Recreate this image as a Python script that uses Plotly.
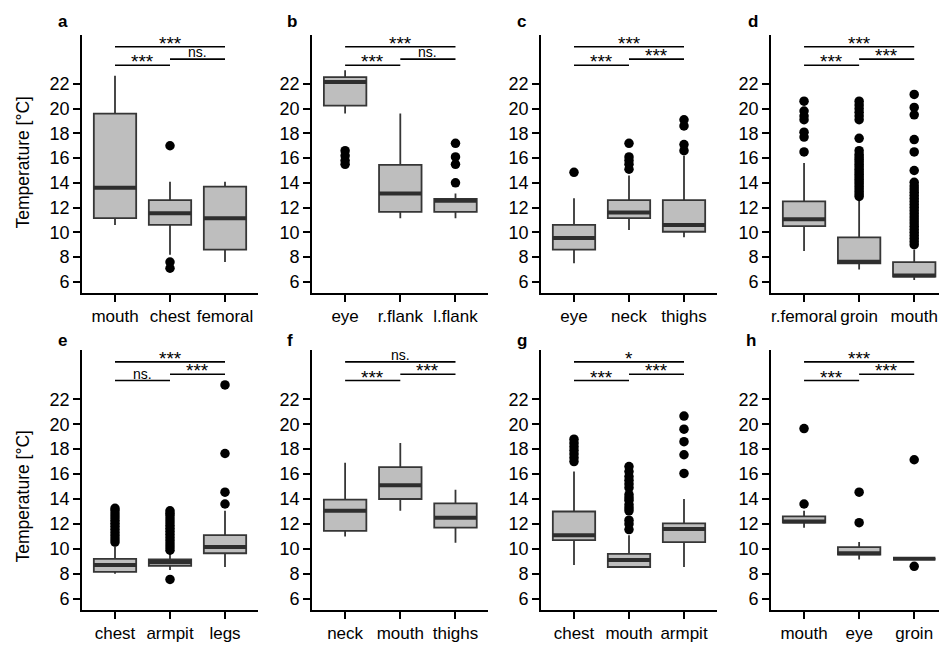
import plotly.graph_objects as go

# ---------------- data ----------------
a_cats = ["mouth", "chest", "femoral"]
a_low = [10.6, 8.2, 7.6]
a_q1 = [11.15, 10.6, 8.6]
a_med = [13.6, 11.55, 11.15]
a_q3 = [19.6, 12.6, 13.7]
a_high = [22.65, 14.1, 14.1]
a_out = [[], [17.0, 7.6, 7.1], []]
a_sig = ["***", "ns.", "***"]   # pairs (0-1), (1-2), (0-2)

b_cats = ["eye", "r.flank", "l.flank"]
b_low = [19.6, 11.15, 11.15]
b_q1 = [20.25, 11.65, 11.65]
b_med = [22.15, 13.15, 12.55]
b_q3 = [22.55, 15.45, 12.7]
b_high = [23.1, 19.6, 13.15]
b_out = [[16.6, 16.2, 15.8, 15.5], [], [17.2, 16.1, 15.5, 14.0]]
b_sig = ["***", "ns.", "***"]

c_cats = ["eye", "neck", "thighs"]
c_low = [7.5, 10.2, 9.6]
c_q1 = [8.6, 11.15, 10.05]
c_med = [9.55, 11.6, 10.6]
c_q3 = [10.6, 12.6, 12.6]
c_high = [12.75, 14.6, 16.2]
c_out = [[14.85], [15.1, 15.5, 15.8, 16.1, 17.2], [16.6, 17.1, 18.6, 19.1]]
c_sig = ["***", "***", "***"]

d_cats = ["r.femoral", "groin", "mouth"]
d_low = [8.5, 7.0, 6.15]
d_q1 = [10.5, 7.5, 6.43]
d_med = [11.05, 7.62, 6.51]
d_q3 = [12.5, 9.6, 7.6]
d_high = [15.6, 12.6, 8.6]
d_out = [
    [16.5, 17.7, 18.1, 19.1, 19.4, 19.8, 20.6],
    [12.9, 13.1, 13.3, 13.5, 13.7, 13.9, 14.1, 14.3, 14.5, 14.7, 14.9, 15.1,
     15.3, 15.5, 15.7, 15.9, 16.1, 16.3, 16.6, 17.6, 19.1, 19.4, 19.7, 20.0,
     20.3, 20.6],
    [9.0, 9.25, 9.5, 9.75, 10.0, 10.25, 10.5, 10.75, 11.0, 11.25, 11.5, 11.75,
     12.0, 12.25, 12.5, 12.75, 13.0, 13.25, 13.5, 13.75, 14.05, 15.0, 16.5,
     17.5, 19.5, 20.1, 21.15],
]
d_sig = ["***", "***", "***"]

e_cats = ["chest", "armpit", "legs"]
e_low = [8.0, 8.3, 8.55]
e_q1 = [8.15, 8.65, 9.65]
e_med = [8.7, 8.95, 10.15]
e_q3 = [9.2, 9.15, 11.1]
e_high = [10.2, 9.65, 13.05]
e_out = [
    [10.55, 10.8, 11.05, 11.3, 11.55, 11.8, 12.05, 12.3, 12.55, 12.8, 13.05, 13.25],
    [7.55, 9.9, 10.15, 10.4, 10.65, 10.9, 11.15, 11.4, 11.65, 11.9, 12.15, 12.4,
     12.65, 12.85, 13.05],
    [13.6, 14.55, 17.65, 23.15],
]
e_sig = ["ns.", "***", "***"]

f_cats = ["neck", "mouth", "thighs"]
f_low = [11.0, 13.05, 10.5]
f_q1 = [11.45, 14.0, 11.7]
f_med = [13.05, 15.1, 12.5]
f_q3 = [13.95, 16.55, 13.65]
f_high = [16.9, 18.5, 14.75]
f_out = [[], [], []]
f_sig = ["***", "***", "ns."]

g_cats = ["chest", "mouth", "armpit"]
g_low = [8.7, 8.5, 8.55]
g_q1 = [10.7, 8.55, 10.55]
g_med = [11.1, 9.1, 11.6]
g_q3 = [13.0, 9.6, 12.05]
g_high = [16.2, 11.1, 14.0]
g_out = [
    [17.0, 17.3, 17.6, 17.9, 18.2, 18.5, 18.8],
    [11.55, 12.0, 12.3, 13.05, 13.3, 13.55, 13.9, 14.1, 14.35, 14.9, 15.2,
     15.5, 15.8, 16.2, 16.6],
    [16.05, 17.55, 18.6, 19.6, 20.65],
]
g_sig = ["***", "***", "*"]

h_cats = ["mouth", "eye", "groin"]
h_low = [11.7, 9.15, 9.2]
h_q1 = [12.1, 9.55, 9.2]
h_med = [12.2, 9.65, 9.2]
h_q3 = [12.6, 10.15, 9.2]
h_high = [13.05, 10.55, 9.2]
h_out = [[13.6, 19.65], [12.1, 14.55], [8.6, 17.15]]
h_sig = ["***", "***", "***"]

panel_letters = ["a", "b", "c", "d", "e", "f", "g", "h"]
y_ticks = [6, 8, 10, 12, 14, 16, 18, 20, 22]
y_title = "Temperature [°C]"

panels = [
    (a_cats, a_low, a_q1, a_med, a_q3, a_high, a_out, a_sig),
    (b_cats, b_low, b_q1, b_med, b_q3, b_high, b_out, b_sig),
    (c_cats, c_low, c_q1, c_med, c_q3, c_high, c_out, c_sig),
    (d_cats, d_low, d_q1, d_med, d_q3, d_high, d_out, d_sig),
    (e_cats, e_low, e_q1, e_med, e_q3, e_high, e_out, e_sig),
    (f_cats, f_low, f_q1, f_med, f_q3, f_high, f_out, f_sig),
    (g_cats, g_low, g_q1, g_med, g_q3, g_high, g_out, g_sig),
    (h_cats, h_low, h_q1, h_med, h_q3, h_high, h_out, h_sig),
]

# ---------------- layout geometry ----------------
W, H = 939, 646
col_px = [(82, 258), (312, 487.5), (541, 717), (771, 939)]
col_rng = [(-0.6, 2.6), (-0.6, 2.58), (-0.6, 2.6), (-0.6, 2.45)]
row_px = [(35, 293), (350, 610)]
letter_pos = [(62.5, 22), (292, 21), (521.5, 21), (752.5, 21),
              (62, 340), (289.5, 340), (522, 340), (751, 340)]
title_pos = [(22.5, 163), (22.5, 497)]
y_range = [5.1, 25.95]
bracket_y = {(0, 1): 23.5, (1, 2): 24.0, (0, 2): 25.0}

FONT = "Liberation Sans, Arial, sans-serif"
BOX_W = 0.77
BOX_FILL = "#bebebe"
LINE_C = "#363636"

fig = go.Figure()
layout_axes = {}
shapes = []
annotations = []

for i, (cats, low, q1, med, q3, high, out, sig) in enumerate(panels):
    r, c = divmod(i, 4)
    n = i + 1
    xa = "x" if n == 1 else f"x{n}"
    ya = "y" if n == 1 else f"y{n}"
    xk = "xaxis" if n == 1 else f"xaxis{n}"
    yk = "yaxis" if n == 1 else f"yaxis{n}"
    pos = list(range(len(cats)))

    fig.add_trace(go.Box(
        x=pos, q1=q1, median=med, q3=q3, lowerfence=low, upperfence=high,
        width=BOX_W, whiskerwidth=0, fillcolor=BOX_FILL,
        line=dict(color=LINE_C, width=1.8), boxpoints=False,
        xaxis=xa, yaxis=ya, showlegend=False, hoverinfo="skip"))

    mx, my = [], []
    for p, m in zip(pos, med):
        mx += [p - BOX_W / 2, p + BOX_W / 2, None]
        my += [m, m, None]
    fig.add_trace(go.Scatter(x=mx, y=my, mode="lines",
                             line=dict(color="#2e2e2e", width=4),
                             xaxis=xa, yaxis=ya, showlegend=False,
                             hoverinfo="skip"))

    ox, oy = [], []
    for p, vals in zip(pos, out):
        ox += [p] * len(vals)
        oy += vals
    fig.add_trace(go.Scatter(x=ox, y=oy, mode="markers",
                             marker=dict(color="black", size=9.5),
                             xaxis=xa, yaxis=ya, showlegend=False,
                             hoverinfo="skip"))

    x0, x1 = col_px[c]
    ytop, ybot = row_px[r]
    layout_axes[xk] = dict(
        domain=[x0 / W, x1 / W], range=list(col_rng[c]), anchor=ya,
        tickmode="array", tickvals=pos, ticktext=cats, tickangle=0,
        ticklabeloverflow="allow",
        showline=True, linecolor="black", linewidth=1.6, mirror=False,
        ticks="outside", ticklen=7, tickwidth=1.6, tickcolor="black",
        showgrid=False, zeroline=False, automargin=False,
        tickfont=dict(family=FONT, size=17, color="black"))
    layout_axes[yk] = dict(
        domain=[1 - ybot / H, 1 - ytop / H], range=y_range, anchor=xa,
        tickmode="array", tickvals=y_ticks,
        showline=True, linecolor="black", linewidth=1.6, mirror=False,
        ticks="outside", ticklen=7, tickwidth=1.6, tickcolor="black",
        showgrid=False, zeroline=False, automargin=False,
        tickfont=dict(family=FONT, size=18, color="black"))

    pairs = [(0, 1), (1, 2), (0, 2)]
    for (a0, a1), s in zip(pairs, sig):
        yb = bracket_y[(a0, a1)]
        shapes.append(dict(type="line", xref=xa, yref=ya, x0=a0, x1=a1,
                           y0=yb, y1=yb, line=dict(color="black", width=1.6)))
        star = s.startswith("*")
        annotations.append(dict(
            x=(a0 + a1) / 2, y=yb, xref=xa, yref=ya, text=s, showarrow=False,
            yanchor="bottom", yshift=-9 if star else -3,
            font=dict(family=FONT, size=19 if star else 14, color="black")))

    lx, ly = letter_pos[i]
    annotations.append(dict(x=lx / W, y=1 - ly / H, xref="paper", yref="paper",
                            text=f"<b>{panel_letters[i]}</b>", showarrow=False,
                            xanchor="center", yanchor="middle",
                            font=dict(family=FONT, size=17, color="black")))

for tx, ty in title_pos:
    annotations.append(dict(x=tx / W, y=1 - ty / H, xref="paper", yref="paper",
                            text=y_title, showarrow=False, textangle=-90,
                            xanchor="center", yanchor="middle",
                            font=dict(family=FONT, size=17.5, color="black")))

fig.update_layout(
    width=W, height=H, margin=dict(l=0, r=0, t=0, b=0),
    paper_bgcolor="white", plot_bgcolor="white",
    shapes=shapes, annotations=annotations, **layout_axes)

fig.write_html("out.html",
               config={"displayModeBar": False},
               post_script="document.body.style.margin='0';"
                           "document.body.style.overflow='hidden';")
